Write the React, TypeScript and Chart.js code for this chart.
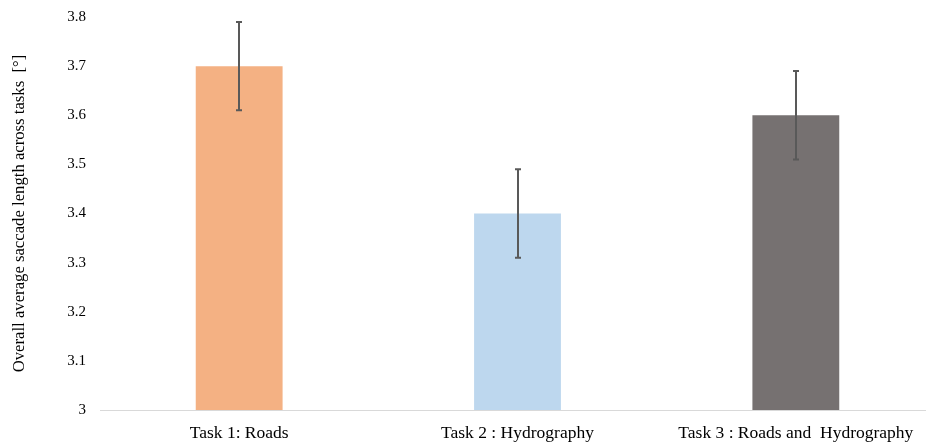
import React, { useEffect, useRef } from "react";
import { Chart, registerables } from "chart.js";

Chart.register(...registerables);

const categories = ["Task 1: Roads", "Task 2 : Hydrography", "Task 3 : Roads and  Hydrography"];
const meanSaccade = [3.7, 3.4, 3.6];
const errorMargin = [0.09, 0.09, 0.09];
const barColors = ["#F4B183", "#BDD7EE", "#767171"];
const yTitle = "Overall average saccade length across tasks  [°]";

const FONT = "'Liberation Serif', 'Times New Roman', serif";

// Draws symmetric error whiskers with small caps over each bar.
const errorBarPlugin = {
  id: "errorBars",
  afterDatasetsDraw(chart: any) {
    const { ctx } = chart;
    const meta = chart.getDatasetMeta(0);
    const yScale = chart.scales.y;
    ctx.save();
    ctx.strokeStyle = "#595959";
    ctx.lineWidth = 2;
    meta.data.forEach((bar: any, i: number) => {
      const x = Math.round(bar.x);
      const top = yScale.getPixelForValue(meanSaccade[i] + errorMargin[i]);
      const bot = yScale.getPixelForValue(meanSaccade[i] - errorMargin[i]);
      ctx.beginPath();
      ctx.moveTo(x, top);
      ctx.lineTo(x, bot);
      ctx.moveTo(x - 3, top);
      ctx.lineTo(x + 3, top);
      ctx.moveTo(x - 3, bot);
      ctx.lineTo(x + 3, bot);
      ctx.stroke();
    });
    ctx.restore();
  },
};

// Rotated y-axis title centred on the plot area.
const yTitlePlugin = {
  id: "yTitle",
  afterDraw(chart: any) {
    const { ctx, chartArea } = chart;
    ctx.save();
    ctx.translate(20, (chartArea.top + chartArea.bottom) / 2);
    ctx.rotate(-Math.PI / 2);
    ctx.font = `16.7px ${FONT}`;
    ctx.fillStyle = "#000000";
    ctx.textAlign = "center";
    ctx.textBaseline = "middle";
    ctx.fillText(yTitle, 0, 0);
    ctx.restore();
  },
};

export default function App() {
  const ref = useRef<HTMLCanvasElement | null>(null);

  useEffect(() => {
    if (!ref.current) return;
    const chart = new Chart(ref.current, {
      type: "bar",
      data: {
        labels: categories,
        datasets: [
          {
            data: meanSaccade,
            backgroundColor: barColors,
            borderWidth: 0,
            barPercentage: 0.312,
            categoryPercentage: 1,
          },
        ],
      },
      options: {
        responsive: false,
        animation: false,
        layout: { padding: { top: 17, right: 1, left: 0, bottom: 0 } },
        plugins: {
          legend: { display: false },
          tooltip: { enabled: false },
        },
        scales: {
          x: {
            grid: { display: false, drawTicks: false },
            border: { display: true, color: "#D9D9D9", width: 1 },
            ticks: {
              color: "#000000",
              font: { family: FONT, size: 17.5 },
              padding: 13,
              maxRotation: 0,
              autoSkip: false,
            },
            afterFit(scale: any) {
              scale.height = 33;
            },
          },
          y: {
            min: 3,
            max: 3.8,
            grid: { display: false, drawTicks: false },
            border: { display: false },
            ticks: {
              stepSize: 0.1,
              color: "#000000",
              font: { family: FONT, size: 15 },
              padding: 14,
              callback: (v: any) => String(Number(Number(v).toFixed(1))),
            },
            afterFit(scale: any) {
              scale.width = 100;
              scale.paddingTop = 0;
              scale.paddingBottom = 0;
            },
          },
        },
      },
      plugins: [errorBarPlugin, yTitlePlugin],
    });
    return () => chart.destroy();
  }, []);

  return (
    <div
      style={{
        position: "fixed",
        left: 0,
        top: 0,
        width: 926,
        height: 443,
        overflow: "hidden",
        background: "#ffffff",
      }}
    >
      <canvas ref={ref} width={936} height={443} style={{ display: "block" }} />
    </div>
  );
}
